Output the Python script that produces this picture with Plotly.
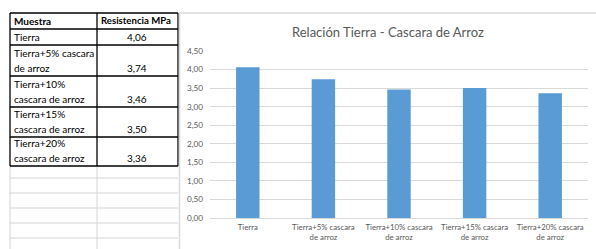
import plotly.graph_objects as go

# ---------------- data ----------------
categories = ["Tierra", "Tierra+5% cascara de arroz", "Tierra+10% cascara de arroz",
              "Tierra+15% cascara de arroz", "Tierra+20% cascara de arroz"]
values = [4.06, 3.74, 3.46, 3.50, 3.36]
tick_labels = ["Tierra", "Tierra+5% cascara<br>de arroz", "Tierra+10% cascara<br>de arroz",
               "Tierra+15% cascara<br>de arroz", "Tierra+20% cascara<br>de arroz"]
table_header = ["Muestra", "Resistencia MPa"]
table_row_lines = [["Tierra"], ["Tierra+5% cascara", "de arroz"], ["Tierra+10%", "cascara de arroz"],
                   ["Tierra+15%", "cascara de arroz"], ["Tierra+20%", "cascara de arroz"]]
table_values = ["4,06", "3,74", "3,46", "3,50", "3,36"]
y_ticks = [0, 0.5, 1.0, 1.5, 2.0, 2.5, 3.0, 3.5, 4.0, 4.5]
chart_title = "Relación Tierra - Cascara de Arroz"

# ---------------- layout helpers ----------------
W, H = 596, 249
FONT = "Lato, Carlito, Calibri, sans-serif"
GREY_TXT = "#595959"


def px(x):
    return x / W


def py(y):
    return 1 - y / H


fig = go.Figure()
fig.add_trace(go.Bar(x=categories, y=values, marker=dict(color="#5B9BD5", line=dict(width=0)),
                     width=0.31, hoverinfo="x+y"))

shapes = []
annotations = []


def line(x0, y0, x1, y1, color, w):
    shapes.append(dict(type="line", xref="paper", yref="paper", x0=px(x0), y0=py(y0),
                       x1=px(x1), y1=py(y1), line=dict(color=color, width=w)))


def text(x, y, s, anchor="left", size=10, bold=False, color="#000000"):
    annotations.append(dict(xref="paper", yref="paper", x=px(x), y=py(y), text=("<b>%s</b>" % s) if bold else s,
                            showarrow=False, xanchor=anchor, yanchor="middle",
                            font=dict(family=FONT, size=size, color=color)))


# empty spreadsheet grid below table
for gy in [178, 193, 208, 223, 238]:
    line(10, gy, 178, gy, "#D4D4D4", 1)
for gx in [10, 97]:
    line(gx, 166, gx, 249, "#D4D4D4", 1)

# table borders
row_edges = [13, 29, 45, 76, 107, 137, 166]
for ry in row_edges:
    line(10, ry, 178, ry, "#000000", 1.3)
for cx in [10, 97, 178]:
    line(cx, 13, cx, 166, "#000000", 1.3)

# chart area border
line(179.5, 13, 179.5, 249, "#D9D9D9", 1.5)
line(179, 13, 596, 13, "#D9D9D9", 1.5)

# table text
TS = 10
text(12, 21, table_header[0], bold=True, size=TS)
text(99, 21, table_header[1], bold=True, size=TS - 0.4)
for i, lines in enumerate(table_row_lines):
    top, bot = row_edges[i + 1], row_edges[i + 2]
    if len(lines) == 1:
        text(12, bot - 8, lines[0], size=TS)
    else:
        text(12, bot - 23, lines[0], size=TS)
        text(12, bot - 8, lines[1], size=TS)
    text(137, bot - 8, table_values[i], anchor="center", size=TS)

# chart title
text(388, 32, chart_title, anchor="center", size=13, color=GREY_TXT)

fig.update_layout(
    width=W, height=H, margin=dict(l=0, r=0, t=0, b=0),
    paper_bgcolor="white", plot_bgcolor="white",
    separators=",.",
    showlegend=False,
    shapes=shapes, annotations=annotations,
    font=dict(family=FONT, color=GREY_TXT),
    xaxis=dict(domain=[px(210), px(588)], tickvals=categories, ticktext=tick_labels,
               automargin=False, ticklabelstandoff=3,
               showgrid=False, showline=False, ticks="", zeroline=False,
               tickfont=dict(family=FONT, size=7.8, color=GREY_TXT)),
    yaxis=dict(domain=[py(218), py(51)], range=[0, 4.5], tickvals=y_ticks, tickformat=".2f",
               automargin=False, ticklabelstandoff=6,
               showgrid=True, gridcolor="#D9D9D9", gridwidth=1, zeroline=True,
               zerolinecolor="#D9D9D9", zerolinewidth=1, showline=False, ticks="",
               tickfont=dict(family=FONT, size=8.2, color=GREY_TXT)),
)

fig.write_html("out.html", config={"displayModeBar": False},
               post_script="document.body.style.margin='0';document.body.style.overflow='hidden';")
